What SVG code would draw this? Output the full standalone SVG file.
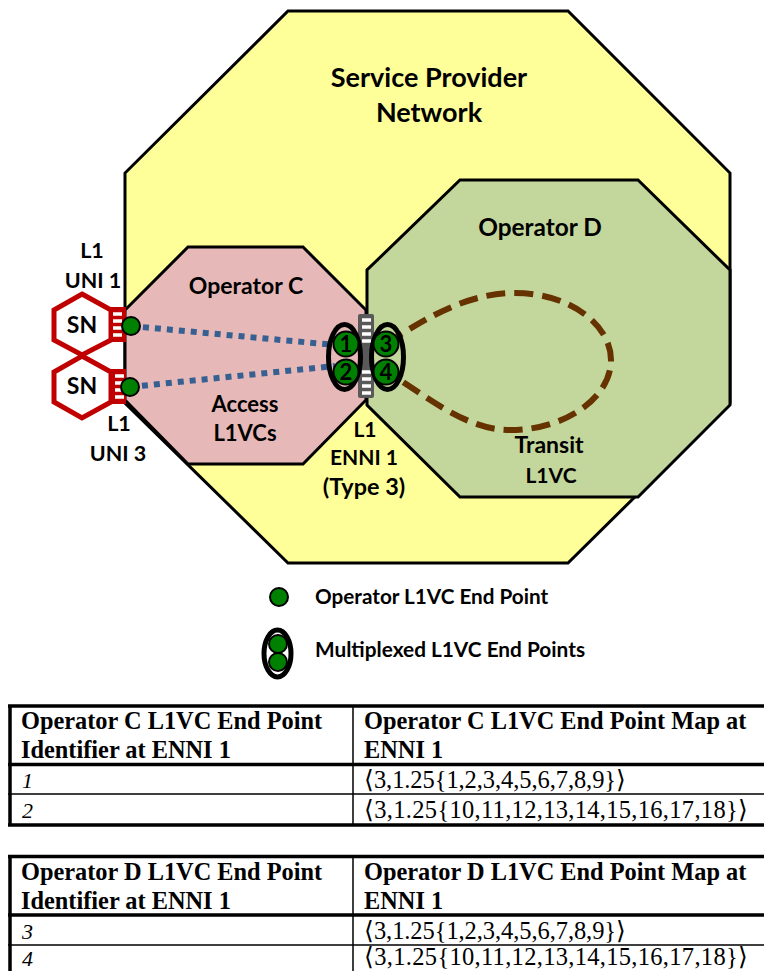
<svg xmlns="http://www.w3.org/2000/svg" width="764" height="971" viewBox="0 0 764 971">
<style>
.reg{stroke:#000;stroke-width:3;stroke-linejoin:miter}
.t{font-family:Lato,"Open Sans",sans-serif;font-weight:700;fill:#000;text-anchor:middle}
.ep{fill:#008000;stroke:#000;stroke-width:2}
.mux{fill:none;stroke:#000;stroke-width:5}
.sn{fill:#fff;stroke:#c00000;stroke-width:5}
.th{font-family:"Liberation Serif",serif;font-weight:700;font-size:24.350px;fill:#000}
.td{font-family:"Liberation Serif",serif;font-size:24.500px;fill:#000}
.it{font-family:"Liberation Serif",serif;font-style:italic;font-size:22px;fill:#000}
.n{font-family:Lato,sans-serif;font-weight:700;font-size:22px;text-anchor:middle;fill:#000}
.lk{fill:none;stroke:#000}
</style>
<rect width="764" height="971" fill="#fff"/>
<g id="provider">
<polygon class="reg" fill="#ffff99" points="288,11 568,11 730,173 730,403 568,563 288,563 125,403 125,173"/>
<text class="t" font-size="27" x="429" y="87">Service Provider</text>
<text class="t" font-size="27" x="429" y="122">Network</text>
</g>
<g id="operator-c">
<polygon class="reg" fill="#e6b8b7" points="188,247 303,247 366,310 366,400 303,464 188,464 125,400 125,310"/>
<text class="t" font-size="23" x="246" y="294">Operator C</text>
<text class="t" font-size="22" x="245" y="412">Access</text>
<text class="t" font-size="22" x="245" y="441">L1VCs</text>
</g>
<g id="operator-d">
<polygon class="reg" fill="#c3d69b" points="460,180 638,180 730,270 730,405 638,497 460,497 367,405 367,270"/>
<text class="t" font-size="24.400" x="540" y="236">Operator D</text>
<text class="t" font-size="23" x="549" y="453">Transit</text>
<text class="t" font-size="21" x="551" y="483">L1VC</text>
</g>
<g id="connectors" fill="none">
<path d="M131,326 L335,345" stroke="#376092" stroke-width="6" stroke-dasharray="6 6"/>
<path d="M130,387 L335,366" stroke="#376092" stroke-width="6" stroke-dasharray="6 6"/>
<path d="M386,344 C430,315 470,293 515,293 C570,293 611,325 611,360 C611,398 565,430 510,430 C465,430 425,395 386,371" stroke="#663300" stroke-width="6" stroke-dasharray="19 9"/>
</g>
<g id="sn-1">
<polygon class="sn" points="82,294 111,310 111,340 82,355 54,340 54,310"/>
<text class="t" font-size="23" x="82" y="333">SN</text>
<rect x="111" y="307" width="15" height="35" fill="#c00000"/>
<path d="M113,314h9M113,321h9M113,328h9M113,335h9" stroke="#fff" stroke-width="3.500"/>
</g>
<g id="sn-2">
<polygon class="sn" points="82,356 111,372 111,402 82,418 54,402 54,372"/>
<text class="t" font-size="23" x="82" y="394">SN</text>
<rect x="111" y="369" width="15" height="35" fill="#c00000"/>
<path d="M115,376h9M115,383h9M115,390h9M115,397h9" stroke="#fff" stroke-width="3.500"/>
</g>
<g id="uni-labels">
<text class="t" font-size="21.500" x="92" y="258">L1</text>
<text class="t" font-size="21.500" x="93" y="288">UNI 1</text>
<text class="t" font-size="21.500" x="119" y="431">L1</text>
<text class="t" font-size="21.500" x="118" y="461">UNI 3</text>
</g>
<circle class="ep" cx="131" cy="326" r="9"/>
<circle class="ep" cx="130" cy="387" r="9"/>
<g id="enni-1">
<rect x="358" y="314" width="16" height="84" rx="2" fill="#595959"/>
<path d="M362,320h9M362,327h9M362,334h9M362,341h9M362,372h9M362,379h9M362,386h9M362,393h9" stroke="#fff" stroke-width="3.500"/>
<text class="t" font-size="21" x="365" y="437">L1</text>
<text class="t" font-size="21" x="364" y="465">ENNI 1</text>
<text class="t" font-size="23.400" x="364" y="495">(Type 3)</text>
</g>
<g id="mux-left">
<ellipse class="mux" cx="344.500" cy="357" rx="16" ry="32.500"/>
<circle class="ep" cx="346" cy="344" r="12.500"/><circle class="ep" cx="346" cy="372" r="12.500"/>
<text class="n" x="346" y="352">1</text><text class="n" x="346" y="380">2</text>
</g>
<g id="mux-right">
<ellipse class="mux" cx="387.500" cy="357" rx="16" ry="32.500"/>
<circle class="ep" cx="386" cy="344" r="12.500"/><circle class="ep" cx="386" cy="372" r="12.500"/>
<text class="n" x="386" y="352">3</text><text class="n" x="386" y="380">4</text>
</g>
<g id="legend">
<circle class="ep" cx="279" cy="597" r="9"/>
<text class="t" font-size="20.700" style="text-anchor:start" x="315" y="604">Operator L1VC End Point</text>
<ellipse class="mux" cx="277.500" cy="653.500" rx="13.500" ry="23.500"/>
<circle class="ep" cx="278" cy="644" r="9"/><circle class="ep" cx="278" cy="662" r="9"/>
<text class="t" font-size="20.800" style="text-anchor:start" x="315" y="657">Multiplexed L1VC End Points</text>
</g>
<g id="table-c">
<path class="lk" stroke-width="3.500" d="M8,706H764M8,764.500H764M8,825H764M10,705V826"/>
<path class="lk" stroke-width="1.500" d="M8,794H764M353,705V825"/>
<text class="th" x="21" y="729">Operator C L1VC End Point</text>
<text class="th" x="21" y="758">Identifier at ENNI 1</text>
<text class="th" x="364" y="729">Operator C L1VC End Point Map at</text>
<text class="th" x="364" y="758">ENNI 1</text>
<text class="it" x="22" y="788">1</text>
<text class="it" x="22" y="818">2</text>
<text class="td" x="364" y="788" textLength="262">⟨3,1.25{1,2,3,4,5,6,7,8,9}⟩</text>
<text class="td" x="364" y="818" textLength="384">⟨3,1.25{10,11,12,13,14,15,16,17,18}⟩</text>
</g>
<g id="table-d">
<path class="lk" stroke-width="3.500" d="M8,856.500H764M8,915H764M10,855V971"/>
<path class="lk" stroke-width="1.500" d="M8,945H764M353,855V971"/>
<text class="th" x="21" y="880">Operator D L1VC End Point</text>
<text class="th" x="21" y="909">Identifier at ENNI 1</text>
<text class="th" x="364" y="880">Operator D L1VC End Point Map at</text>
<text class="th" x="364" y="909">ENNI 1</text>
<text class="it" x="22" y="939">3</text>
<text class="it" x="22" y="966">4</text>
<text class="td" x="364" y="939" textLength="262">⟨3,1.25{1,2,3,4,5,6,7,8,9}⟩</text>
<text class="td" x="364" y="965" textLength="384">⟨3,1.25{10,11,12,13,14,15,16,17,18}⟩</text>
</g>
</svg>
